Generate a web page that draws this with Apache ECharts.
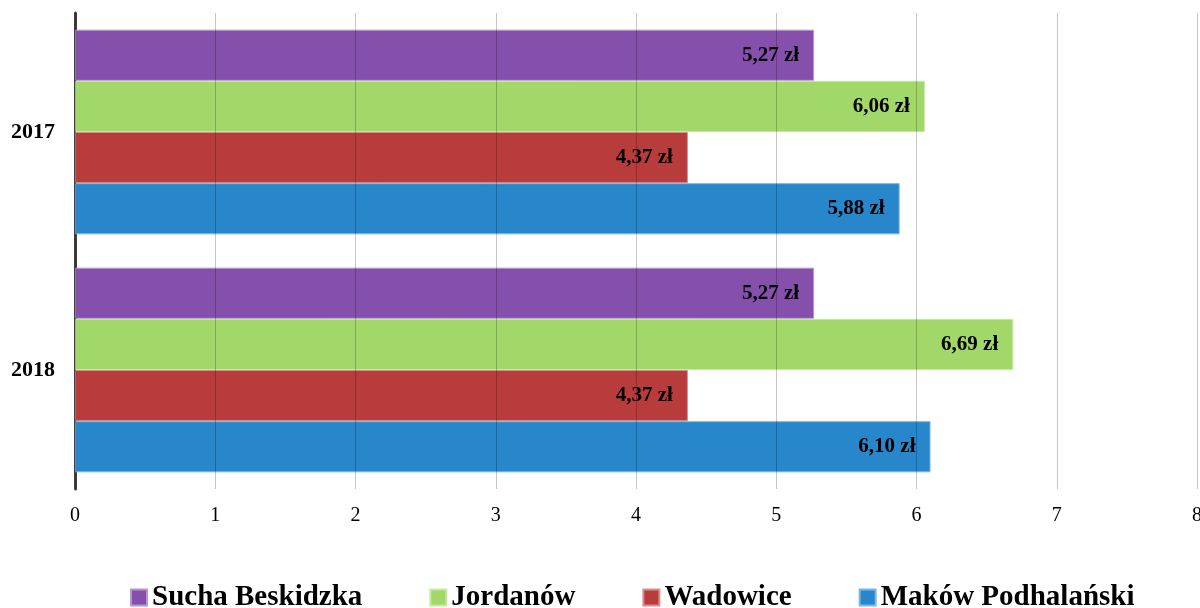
<!DOCTYPE html>
<html>
<head>
<meta charset="utf-8">
<script src="https://cdn.jsdelivr.net/npm/echarts@6/dist/echarts.min.js"></script>
<style>html,body{margin:0;padding:0;background:#fff}#c{width:1200px;height:608px}</style>
</head>
<body>
<div id="c"></div>
<script>
const categories = ['2017', '2018'];
const seriesNames = ['Sucha Beskidzka', 'Jordanów', 'Wadowice', 'Maków Podhalański'];
const suchaBeskidzka = [5.27, 5.27];
const jordanow = [6.06, 6.69];
const wadowice = [4.37, 4.37];
const makowPodhalanski = [5.88, 6.10];
const xTicks = [0, 1, 2, 3, 4, 5, 6, 7, 8];

const colors = ['#8550AC', '#A2D869', '#B93C3C', '#2886CA'];
const borders = ['#B896D0', '#C6E8A2', '#D98C8C', '#7DB6E2'];
const values = [suchaBeskidzka, jordanow, wadowice, makowPodhalanski];
const FONT = '"Liberation Serif", "Times New Roman", serif';

const series = seriesNames.map((name, i) => ({
  name: name,
  type: 'bar',
  data: values[i],
  barGap: '0%',
  barCategoryGap: '14%',
  itemStyle: { color: colors[i], borderColor: borders[i], borderWidth: 1 },
  label: {
    show: true,
    position: 'insideRight',
    distance: 15,
    color: '#000',
    fontFamily: FONT,
    fontWeight: 'bold',
    fontSize: 21,
    formatter: p => p.value.toFixed(2).replace('.', ',') + ' zł'
  }
}));

const chart = echarts.init(document.getElementById('c'));
chart.setOption({
  animation: false,
  grid: { left: 75, right: 3, top: 13, bottom: 119, containLabel: false, outerBoundsMode: 'none' },
  legend: {
    data: seriesNames,
    top: 578,
    left: 125,
    itemWidth: 16,
    itemHeight: 16,
    itemGap: 67,
    icon: 'rect',
    textStyle: { fontFamily: FONT, fontWeight: 'bold', fontSize: 29, color: '#000' }
  },
  xAxis: {
    type: 'value',
    min: 0,
    max: 8,
    interval: 1,
    z: 3,
    axisLine: { show: false },
    axisTick: { show: false },
    splitLine: { show: true, lineStyle: { color: 'rgba(0,0,0,0.22)', width: 1 } },
    axisLabel: {
      fontFamily: FONT, fontSize: 20, color: '#000', margin: 17,
      formatter: v => xTicks.includes(v) ? String(v) : ''
    }
  },
  yAxis: {
    type: 'category',
    data: categories,
    inverse: true,
    axisLine: { show: true, lineStyle: { color: '#404040', width: 3 } },
    axisTick: { show: false },
    axisLabel: { fontFamily: FONT, fontSize: 22, fontWeight: 'bold', color: '#000', margin: 20 }
  },
  series: series
});
</script>
</body>
</html>
